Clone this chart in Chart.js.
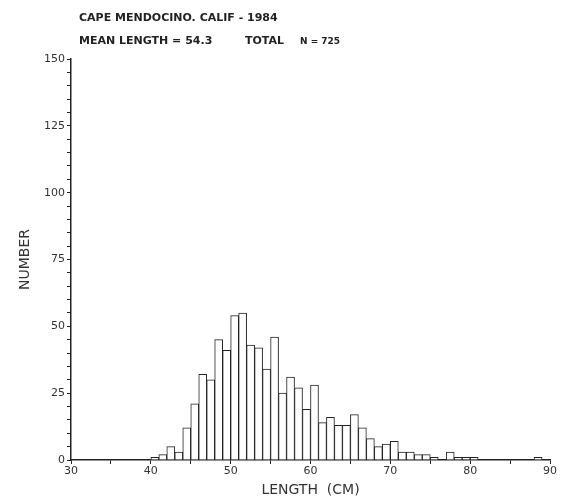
<!DOCTYPE html>
<html lang="en">
<head>
  <meta charset="UTF-8" />
  <title>Cape Mendocino 1984 length frequency</title>
  <script src="https://cdn.jsdelivr.net/npm/chart.js"></script>
  <style>
    body { margin: 0; background: #fff; }
    canvas { display: block; }
  </style>
</head>
<body>
  <canvas id="lengthChart" width="569" height="500"></canvas>

  <script>
    // length bins (cm, lower edge) and fish counts
    const bins = [40, 41, 42, 43, 44, 45, 46, 47, 48, 49,
                  50, 51, 52, 53, 54, 55, 56, 57, 58, 59,
                  60, 61, 62, 63, 64, 65, 66, 67, 68, 69,
                  70, 71, 72, 73, 74, 75, 76, 77, 78, 79,
                  80, 81, 82, 83, 84, 85, 86, 87, 88];
    const counts = [1, 2, 5, 3, 12, 21, 32, 30, 45, 41,
                    54, 55, 43, 42, 34, 46, 25, 31, 27, 19,
                    28, 14, 16, 13, 13, 17, 12, 8, 5, 6,
                    7, 3, 3, 2, 2, 1, 0, 3, 1, 1,
                    1, 0, 0, 0, 0, 0, 0, 0, 1];
    const xTickLabels = [30, 40, 50, 60, 70, 80, 90];
    const yTickLabels = [0, 25, 50, 75, 100, 125, 150];

    const ink = '#222';

    const header = {
      id: 'header',
      afterDraw(chart) {
        const c = chart.ctx;
        c.save();
        c.fillStyle = ink;
        c.textBaseline = 'alphabetic';
        c.font = "bold 11px 'DejaVu Sans'";
        c.fillText('CAPE MENDOCINO. CALIF - 1984', 79, 21);
        c.fillText('MEAN LENGTH = 54.3', 79, 44);
        c.fillText('TOTAL', 245, 44);
        c.font = "bold 9px 'DejaVu Sans'";
        c.fillText('N = 725', 300, 44);
        c.restore();
      }
    };

    const ctx = document.getElementById('lengthChart').getContext('2d');

    new Chart(ctx, {
      type: 'bar',
      data: {
        datasets: [{
          data: bins.map((b, i) => ({ x: b + 0.5, y: counts[i] })),
          backgroundColor: '#fff',
          borderColor: ink,
          borderWidth: 1,
          borderSkipped: 'bottom',
          barPercentage: 1,
          categoryPercentage: 1
        }]
      },
      options: {
        responsive: false,
        animation: false,
        layout: { padding: { top: 59, right: 19, bottom: 0, left: 0 } },
        plugins: {
          legend: { display: false },
          tooltip: { enabled: false }
        },
        scales: {
          x: {
            type: 'linear',
            min: 30,
            max: 90,
            offset: false,
            afterFit(s) { s.height = 40; },
            ticks: {
              stepSize: 5,
              autoSkip: false,
              maxRotation: 0,
              padding: 1,
              color: '#333',
              font: { family: 'DejaVu Sans', size: 11 },
              callback: v => xTickLabels.includes(v) ? v : ''
            },
            grid: { drawOnChartArea: false, offset: false, tickLength: 4, color: ink },
            border: { display: true, color: ink, width: 1.5 },
            title: {
              display: true,
              text: 'LENGTH  (CM)',
              color: '#333',
              font: { family: 'DejaVu Sans', size: 14 },
              padding: { top: 0, bottom: 1 }
            }
          },
          y: {
            min: 0,
            max: 150,
            afterFit(s) { s.width = 71; },
            ticks: {
              stepSize: 5,
              autoSkip: false,
              padding: 2,
              color: '#333',
              font: { family: 'DejaVu Sans', size: 11 },
              callback: v => yTickLabels.includes(v) ? v : ''
            },
            grid: { drawOnChartArea: false, tickLength: 4, color: ink },
            border: { display: true, color: ink, width: 1.5 },
            title: {
              display: true,
              text: 'NUMBER',
              color: '#333',
              font: { family: 'DejaVu Sans', size: 14 },
              padding: { top: 17, bottom: 0 }
            }
          }
        }
      },
      plugins: [header]
    });
  </script>
</body>
</html>
